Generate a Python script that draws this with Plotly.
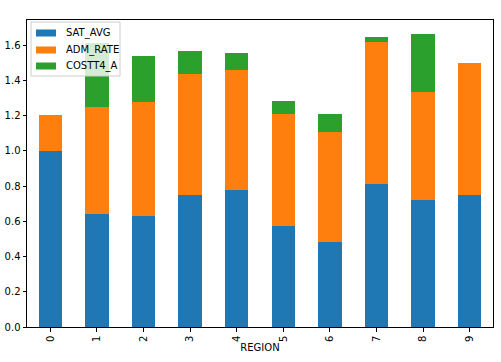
import plotly.graph_objects as go

regions = [0, 1, 2, 3, 4, 5, 6, 7, 8, 9]
sat_avg = [1.0, 0.642, 0.632, 0.75, 0.778, 0.574, 0.483, 0.8125, 0.722, 0.75]
adm_rate = [0.205, 0.608, 0.646, 0.6875, 0.682, 0.636, 0.625, 0.8065, 0.613, 0.75]
costt4_a = [0.0, 0.364, 0.262, 0.1305, 0.097, 0.074, 0.102, 0.029, 0.33, 0.0]
y_ticks = [0.0, 0.2, 0.4, 0.6, 0.8, 1.0, 1.2, 1.4, 1.6]

series = [("SAT_AVG", sat_avg, "#1f77b4"),
          ("ADM_RATE", adm_rate, "#ff7f0e"),
          ("COSTT4_A", costt4_a, "#2ca02c")]

W, H = 501, 362
ML, MR, MT, MB = 27, 8, 20, 35
PW, PH = W - ML - MR, H - MT - MB

def px(x):
    return (x - ML) / PW

def py(y):
    return (H - MB - y) / PH

fig = go.Figure()
for name, vals, col in series:
    fig.add_trace(go.Bar(x=regions, y=vals, name=name, marker_color=col,
                         marker_line_width=0, width=0.5, showlegend=False))

font = dict(family="DejaVu Sans", size=10, color="#000000")

# legend drawn manually (matplotlib style)
shapes = [dict(type="rect", xref="paper", yref="paper",
               x0=px(31), x1=px(120), y0=py(76), y1=py(22),
               fillcolor="rgba(255,255,255,0.8)", line=dict(color="#cccccc", width=1),
               layer="above")]
annotations = []
rows = [33, 50, 66]
for (name, vals, col), ry in zip(series, rows):
    shapes.append(dict(type="rect", xref="paper", yref="paper",
                       x0=px(36), x1=px(56), y0=py(ry + 3.5), y1=py(ry - 3.5),
                       fillcolor=col, line=dict(width=0), layer="above"))
    annotations.append(dict(text=name, xref="paper", yref="paper",
                            x=px(64), y=py(ry), xanchor="left", yanchor="middle",
                            showarrow=False, font=font))

fig.update_layout(
    width=W, height=H,
    margin=dict(l=ML, r=MR, t=MT, b=MB),
    barmode="stack",
    plot_bgcolor="white", paper_bgcolor="white",
    font=font,
    showlegend=False,
    shapes=shapes,
    annotations=annotations,
    xaxis=dict(range=[-0.5, 9.5], tickmode="array", tickvals=regions,
               ticktext=[str(r) for r in regions], tickangle=-90,
               showline=True, linecolor="black", linewidth=1, mirror=True,
               ticks="outside", ticklen=3.5, tickcolor="black",
               showgrid=False, zeroline=False, automargin=False,
               title=dict(text="REGION", font=font, standoff=2)),
    yaxis=dict(range=[0, 1.744], tickmode="array", tickvals=y_ticks,
               ticktext=[f"{v:.1f}" for v in y_ticks],
               showline=True, linecolor="black", linewidth=1, mirror=True,
               ticks="outside", ticklen=3.5, tickcolor="black",
               showgrid=False, zeroline=False, automargin=False),
)

fig.write_html("out.html",
               config={"displayModeBar": False},
               post_script="document.body.style.margin='0';document.body.style.overflow='hidden';")
